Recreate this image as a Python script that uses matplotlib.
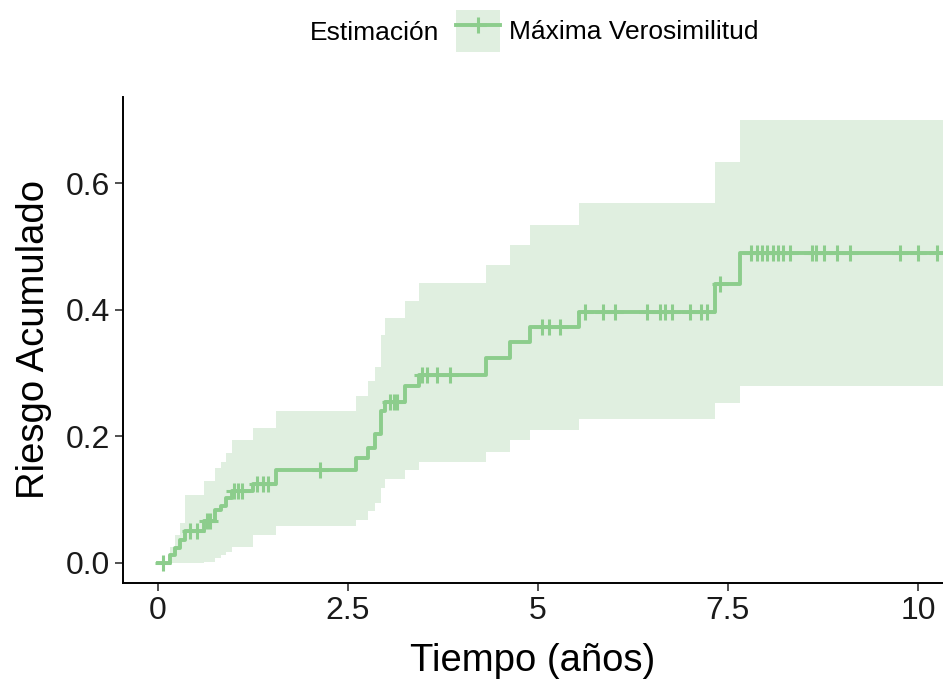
import matplotlib.pyplot as plt
import numpy as np
from matplotlib.patches import Patch
from matplotlib.lines import Line2D

plt.rcParams['font.family'] = ['Liberation Sans', 'DejaVu Sans']

# event times and cumulative hazard (step function)
t_event = [0.00, 0.16, 0.22, 0.29, 0.36, 0.61, 0.75, 0.83, 0.90, 0.97, 1.25, 1.56,
           2.61, 2.77, 2.86, 2.93, 2.99, 3.25, 3.43, 4.32, 4.63, 4.90, 5.54, 7.33, 7.66, 10.45]
hazard = [0.000, 0.013, 0.024, 0.037, 0.050, 0.066, 0.084, 0.090, 0.103, 0.113, 0.124, 0.147,
          0.166, 0.182, 0.203, 0.240, 0.255, 0.279, 0.297, 0.323, 0.349, 0.373, 0.397, 0.440, 0.489, 0.489]
upper = [0.000, 0.026, 0.045, 0.063, 0.108, 0.129, 0.150, 0.160, 0.174, 0.195, 0.213, 0.240,
         0.263, 0.287, 0.310, 0.360, 0.387, 0.413, 0.442, 0.471, 0.502, 0.534, 0.568, 0.634, 0.700, 0.700]
lower = [0.000, 0.000, 0.000, 0.000, 0.000, 0.002, 0.008, 0.012, 0.018, 0.026, 0.045, 0.058,
         0.068, 0.082, 0.095, 0.118, 0.132, 0.147, 0.160, 0.176, 0.195, 0.210, 0.228, 0.252, 0.279, 0.279]

# censored observations
t_cens = [0.07, 0.42, 0.51, 0.64, 0.68, 1.00, 1.06, 1.10, 1.30, 1.38, 1.45, 2.13,
          3.05, 3.10, 3.15, 3.47, 3.54, 3.67, 3.84, 5.05, 5.14, 5.29, 5.62, 5.86, 6.01,
          6.43, 6.60, 6.67, 6.76, 7.00, 7.15, 7.22, 7.39,
          7.81, 7.88, 7.95, 8.02, 8.09, 8.16, 8.23, 8.32, 8.60, 8.66, 8.76, 8.93, 9.11,
          9.76, 10.00, 10.25]

xticks = [0, 2.5, 5, 7.5, 10]
xticklabels = ["0", "2.5", "5", "7.5", "10"]
yticks = [0.0, 0.2, 0.4, 0.6]
yticklabels = ["0.0", "0.2", "0.4", "0.6"]

line_col = "#8CCD8C"
band_col = "#E0EFE0"

fig = plt.figure(figsize=(9.43, 6.81), dpi=100)
ax = fig.add_axes([0.1304, 0.1439, 0.8696, 0.7137])

ax.fill_between(t_event, lower, upper, step="post", color=band_col, lw=0)
ax.step(t_event, hazard, where="post", color=line_col, lw=2.8)

# censor marks sit on the step curve
idx = np.searchsorted(t_event, t_cens, side="right") - 1
h_cens = np.array(hazard)[idx]
ax.plot(t_cens, h_cens, ls="none", marker="+", ms=12, mew=2.2, color=line_col)

ax.set_xlim(-0.46, 10.33)
ax.set_ylim(-0.0316, 0.736)
ax.set_xticks(xticks)
ax.set_xticklabels(xticklabels)
ax.set_yticks(yticks)
ax.set_yticklabels(yticklabels)
ax.tick_params(labelsize=23, length=6, width=1.2, colors="#333333", labelcolor="#1a1a1a")
for s in ["top", "right"]:
    ax.spines[s].set_visible(False)
for s in ["left", "bottom"]:
    ax.spines[s].set_linewidth(1.4)

ax.set_xlabel("Tiempo (años)", fontsize=27.5, labelpad=12)
ax.set_ylabel("Riesgo Acumulado", fontsize=27.5, labelpad=10)

fig.text(310 / 943, 1 - 33 / 681, "Estimación", fontsize=19, va="center", ha="left")
handle = (Patch(facecolor=band_col, edgecolor="none"),
          Line2D([], [], color=line_col, lw=2.8, marker="+", ms=12, mew=2.2))
fig.legend([handle], ["Máxima Verosimilitud"], loc="center left",
           bbox_to_anchor=(456 / 943, 1 - 31 / 681), frameon=False, fontsize=19,
           handlelength=1.65, handleheight=2.1, handletextpad=0.35, borderpad=0,
           borderaxespad=0)

fig.savefig("out.png", dpi=100)
